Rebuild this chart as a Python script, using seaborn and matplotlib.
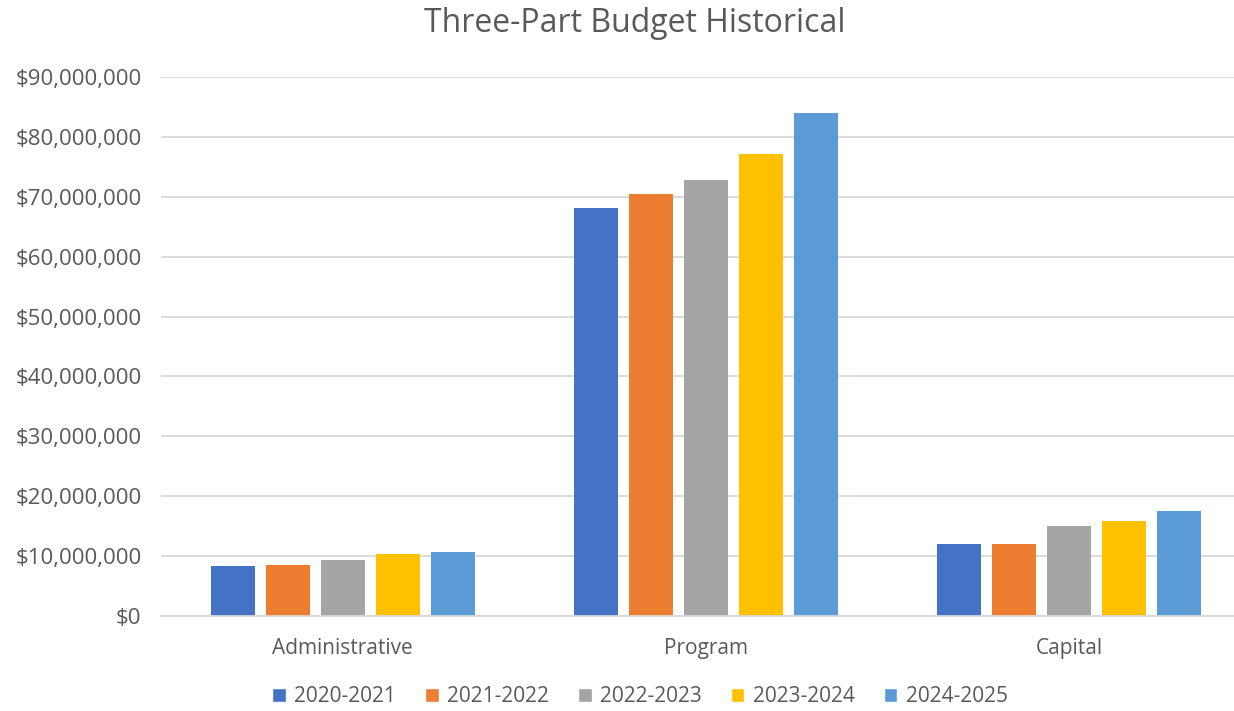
import matplotlib
matplotlib.use("Agg")
import matplotlib.pyplot as plt
import seaborn as sns
import pandas as pd
from matplotlib.ticker import FuncFormatter
from matplotlib.patches import Patch

categories = ["Administrative", "Program", "Capital"]
years = ["2020-2021", "2021-2022", "2022-2023", "2023-2024", "2024-2025"]
v_2020 = [8.33e6, 68.2e6, 12.0e6]
v_2021 = [8.5e6, 70.5e6, 12.0e6]
v_2022 = [9.33e6, 72.8e6, 15.0e6]
v_2023 = [10.33e6, 77.2e6, 15.8e6]
v_2024 = [10.67e6, 84.0e6, 17.5e6]
colors = ["#4472C4", "#ED7D31", "#A5A5A5", "#FFC000", "#5B9BD5"]

series = [v_2020, v_2021, v_2022, v_2023, v_2024]
rows = []
for y, vals in zip(years, series):
    for c, v in zip(categories, vals):
        rows.append({"Category": c, "Year": y, "Value": v})
df = pd.DataFrame(rows)

sns.set_theme(style="white")
plt.rcParams["font.family"] = ["Open Sans", "DejaVu Sans"]
text_color = "#595959"

fig = plt.figure(figsize=(12.34, 7.11), dpi=100)
ax = fig.add_axes([161/1234, 95/711, (1251-161)/1234, (616-77)/711])
sns.barplot(data=df, x="Category", y="Value", hue="Year", order=categories,
            hue_order=years, palette=colors, ax=ax, width=0.757, gap=0.2,
            saturation=1, legend=False, linewidth=0, edgecolor="none")
ax.set_ylim(0, 90e6)
ax.set_yticks([i * 10e6 for i in range(10)])
ax.yaxis.set_major_formatter(FuncFormatter(lambda v, p: f"${v:,.0f}"))
ax.grid(axis="y", color="#D9D9D9", linewidth=1.3)
ax.set_axisbelow(True)
for s in ["top", "right", "left"]:
    ax.spines[s].set_visible(False)
ax.spines["bottom"].set_color("#D9D9D9")
ax.spines["bottom"].set_linewidth(1.3)
ax.tick_params(axis="y", colors=text_color, labelsize=16, length=0, pad=14)
ax.tick_params(axis="x", colors=text_color, labelsize=15, length=0, pad=16)
ax.set_xlabel("")
ax.set_ylabel("")
ax.set_xlim(-0.5, 2.5)

fig.suptitle("Three-Part Budget Historical", x=635/1234, y=0.99, fontsize=23, color=text_color)
handles = [Patch(facecolor=c, label=y) for c, y in zip(colors, years)]
fig.legend(handles=handles, loc="center", bbox_to_anchor=(640/1234, 1-697/711),
           ncol=5, frameon=False, fontsize=15, labelcolor=text_color,
           handlelength=0.65, handleheight=0.65, handletextpad=0.4, columnspacing=1.4)
fig.savefig("out.png", dpi=100)
